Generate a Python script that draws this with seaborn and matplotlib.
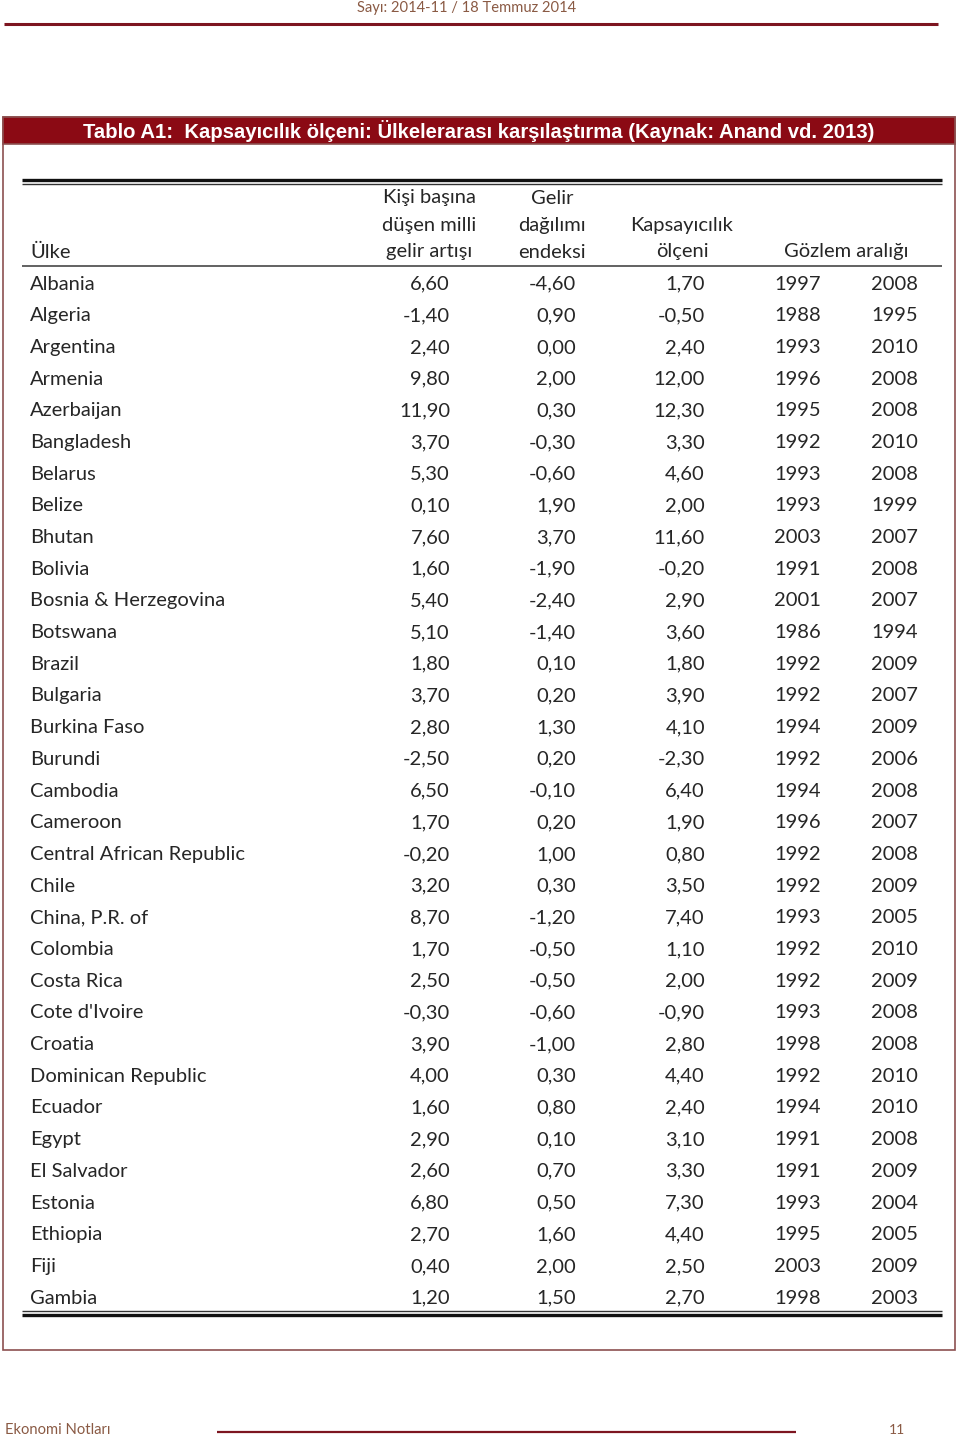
import numpy as np
import pandas as pd
import seaborn as sns
import matplotlib.pyplot as plt
from matplotlib.patches import Rectangle

# table data
countries = ['Albania', 'Algeria', 'Argentina', 'Armenia', 'Azerbaijan', 'Bangladesh',
             'Belarus', 'Belize', 'Bhutan', 'Bolivia', 'Bosnia & Herzegovina', 'Botswana',
             'Brazil', 'Bulgaria', 'Burkina Faso', 'Burundi', 'Cambodia', 'Cameroon',
             'Central African Republic', 'Chile', 'China, P.R. of', 'Colombia', 'Costa Rica',
             "Cote d'Ivoire", 'Croatia', 'Dominican Republic', 'Ecuador', 'Egypt',
             'El Salvador', 'Estonia', 'Ethiopia', 'Fiji', 'Gambia']
income_growth = [6.6, -1.4, 2.4, 9.8, 11.9, 3.7, 5.3, 0.1, 7.6, 1.6, 5.4, 5.1, 1.8, 3.7,
                 2.8, -2.5, 6.5, 1.7, -0.2, 3.2, 8.7, 1.7, 2.5, -0.3, 3.9, 4.0, 1.6, 2.9,
                 2.6, 6.8, 2.7, 0.4, 1.2]
distribution = [-4.6, 0.9, 0.0, 2.0, 0.3, -0.3, -0.6, 1.9, 3.7, -1.9, -2.4, -1.4, 0.1, 0.2,
                1.3, 0.2, -0.1, 0.2, 1.0, 0.3, -1.2, -0.5, -0.5, -0.6, -1.0, 0.3, 0.8, 0.1,
                0.7, 0.5, 1.6, 2.0, 1.5]
inclusiveness = [1.7, -0.5, 2.4, 12.0, 12.3, 3.3, 4.6, 2.0, 11.6, -0.2, 2.9, 3.6, 1.8, 3.9,
                 4.1, -2.3, 6.4, 1.9, 0.8, 3.5, 7.4, 1.1, 2.0, -0.9, 2.8, 4.4, 2.4, 3.1,
                 3.3, 7.3, 4.4, 2.5, 2.7]
year_start = [1997, 1988, 1993, 1996, 1995, 1992, 1993, 1993, 2003, 1991, 2001, 1986, 1992,
              1992, 1994, 1992, 1994, 1996, 1992, 1992, 1993, 1992, 1992, 1993, 1998, 1992,
              1994, 1991, 1991, 1993, 1995, 2003, 1998]
year_end = [2008, 1995, 2010, 2008, 2008, 2010, 2008, 1999, 2007, 2008, 2007, 1994, 2009,
            2007, 2009, 2006, 2008, 2007, 2008, 2009, 2005, 2010, 2009, 2008, 2008, 2010,
            2010, 2008, 2009, 2004, 2005, 2009, 2003]

df = pd.DataFrame({'Ülke': countries, 'g': income_growth, 'd': distribution,
                   'k': inclusiveness, 'y1': year_start, 'y2': year_end})

sns.set_style('white')
plt.rcParams['font.family'] = ['Lato', 'DejaVu Sans']

dark_red = '#7d1520'
brown = '#8a5a44'

fig = plt.figure(figsize=(9.6, 14.4), dpi=100)
ax = fig.add_axes([0, 0, 1, 1])
ax.set_xlim(0, 960)
ax.set_ylim(1440, 0)
ax.axis('off')

fs = 14.5

def fmt(v):
    return f'{v:.2f}'.replace('.', ',')

# page header
ax.text(467, 8, 'Sayı: 2014-11 / 18 Temmuz 2014', ha='center', va='center',
        fontsize=10.6, color=brown)
ax.plot([4, 938], [24, 24], color=dark_red, lw=2.2, solid_capstyle='butt')

# frame + title bar
ax.add_patch(Rectangle((3, 117), 952, 1233, fill=False, edgecolor='#8c5050', lw=1.2))
ax.add_patch(Rectangle((3, 117), 952, 27, facecolor='#8b0a14', edgecolor='#8c5050', lw=1.2))
ax.text(479, 131, 'Tablo A1:  Kapsayıcılık ölçeni: Ülkelerarası karşılaştırma (Kaynak: Anand vd. 2013)',
        ha='center', va='center', fontsize=14.6, fontweight='bold', color='white',
        family=['Liberation Sans', 'DejaVu Sans'])

# top double rule
ax.plot([22, 942], [179.5, 179.5], color='#111111', lw=2.4, solid_capstyle='butt')
ax.plot([22, 942], [184, 184], color='#333333', lw=1.0, solid_capstyle='butt')

# column headers
ax.text(30, 252, 'Ülke', ha='left', va='center', fontsize=fs)
heads = [(429, ['Kişi başına', 'düşen milli', 'gelir artışı']),
         (552, ['Gelir', 'dağılımı', 'endeksi']),
         (682, ['Kapsayıcılık', 'ölçeni']),
         (846, ['Gözlem aralığı'])]
for cx, lines in heads:
    for i, line in enumerate(reversed(lines)):
        ax.text(cx, 252 - 27 * i, line, ha='center', va='center', fontsize=fs)
ax.plot([22, 942], [266, 266], color='#555555', lw=1.3, solid_capstyle='butt')

# rows
row_y = 284 + np.arange(len(df)) * 31.69
for y, (_, r) in zip(row_y, df.iterrows()):
    ax.text(30, y, r['Ülke'], ha='left', va='center', fontsize=fs)
    ax.text(450, y, fmt(r['g']), ha='right', va='center', fontsize=fs)
    ax.text(576, y, fmt(r['d']), ha='right', va='center', fontsize=fs)
    ax.text(705, y, fmt(r['k']), ha='right', va='center', fontsize=fs)
    ax.text(821, y, str(r['y1']), ha='right', va='center', fontsize=fs)
    ax.text(918, y, str(r['y2']), ha='right', va='center', fontsize=fs)

# bottom double rule
ax.plot([22, 942], [1311, 1311], color='#333333', lw=1.0, solid_capstyle='butt')
ax.plot([22, 942], [1315, 1315], color='#111111', lw=2.4, solid_capstyle='butt')

# page footer
ax.text(5, 1430, 'Ekonomi Notları', ha='left', va='center', fontsize=10.6, color=brown)
ax.plot([217, 796], [1432, 1432], color=dark_red, lw=1.6, solid_capstyle='butt')
ax.text(897, 1430, '11', ha='center', va='center', fontsize=10, color=brown)

fig.savefig('out.png', dpi=100)
